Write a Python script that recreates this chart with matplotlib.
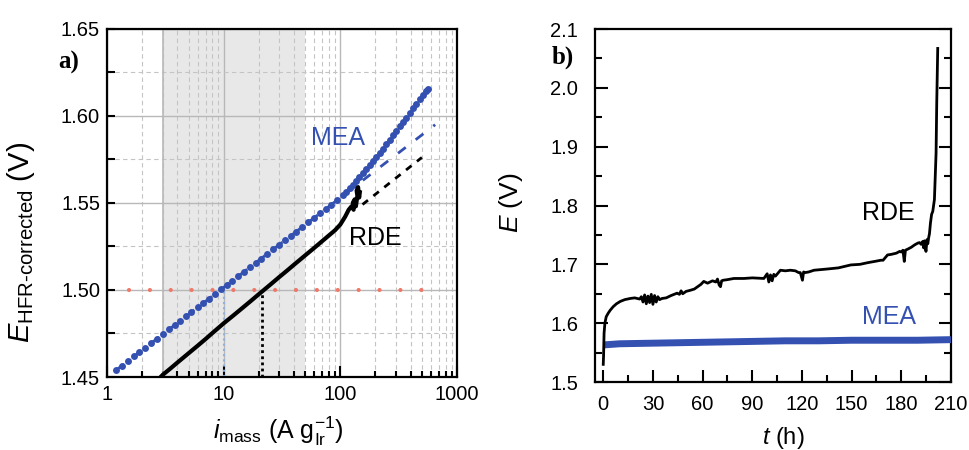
import matplotlib
matplotlib.use("Agg")
import matplotlib.pyplot as plt
from matplotlib.ticker import LogLocator, FuncFormatter, MultipleLocator, NullFormatter

plt.rcParams['font.family'] = ['Liberation Sans', 'DejaVu Sans']
plt.rcParams['mathtext.fontset'] = 'custom'
plt.rcParams['mathtext.rm'] = 'Liberation Sans'
plt.rcParams['mathtext.it'] = 'Liberation Sans:italic'
plt.rcParams['mathtext.bf'] = 'Liberation Sans:bold'

BLUE = '#3451b2'

# --- panel a: HFR-corrected potential vs mass activity ---
mea_i = [1.2, 1.35, 1.5, 1.7, 1.9, 2.1, 2.4, 2.7, 3.0, 3.4,
         3.8, 4.2, 4.8, 5.3, 6.0, 6.7, 7.5, 8.4, 9.5, 10.6,
         11.9, 13.4, 15, 16.8, 18.9, 21, 23.7, 26.6, 29.8, 33.4,
         37.5, 42, 47, 53, 59.5, 67, 75, 84, 94, 105,
         112, 120, 128, 137, 146, 156, 167, 178, 190, 203,
         217, 232, 248, 265, 283, 302, 323, 345, 368, 393,
         420, 449, 480, 512, 547, 570]
mea_e = [1.4540, 1.4566, 1.4590, 1.4618, 1.4643, 1.4665, 1.4695, 1.4721, 1.4745, 1.4773,
         1.4798, 1.4820, 1.4850, 1.4872, 1.4900, 1.4924, 1.4950, 1.4975, 1.5003, 1.5027,
         1.5053, 1.5079, 1.5105, 1.5130, 1.5156, 1.5180, 1.5207, 1.5233, 1.5258, 1.5284,
         1.5310, 1.5335, 1.5360, 1.5387, 1.5413, 1.5439, 1.5465, 1.5490, 1.5515, 1.5545,
         1.5564, 1.5585, 1.5604, 1.5627, 1.5649, 1.5670, 1.5694, 1.5716, 1.5739, 1.5762,
         1.5786, 1.5811, 1.5836, 1.5861, 1.5887, 1.5912, 1.5938, 1.5964, 1.5989, 1.6015,
         1.6042, 1.6069, 1.6095, 1.6119, 1.6142, 1.6155]

rde_i = [2.7, 3, 3.5, 4, 5, 6, 7, 8, 10, 12,
         14, 17, 20, 22, 25, 30, 35, 40, 50, 60,
         70, 80, 90, 100, 110, 118, 125, 130, 128, 133,
         136, 140, 138, 142, 145, 147]
rde_e = [1.4480, 1.4512, 1.4549, 1.4582, 1.4636, 1.4680, 1.4718, 1.4752, 1.4808, 1.4851,
         1.4888, 1.4935, 1.4975, 1.4998, 1.5029, 1.5074, 1.5111, 1.5144, 1.5198, 1.5242,
         1.5280, 1.5313, 1.5342, 1.5375, 1.5420, 1.5460, 1.5480, 1.5460, 1.5500, 1.5520,
         1.5480, 1.5540, 1.5570, 1.5590, 1.5530, 1.5560]

# Tafel fits (extrapolated)
mea_fit_i = [1.2, 650]
mea_fit_e = [1.4540, 1.5948]
rde_fit_i = [155, 500]
rde_fit_e = [1.5490, 1.5760]

e_ref = 1.50
ref_i_range = [1.55, 700]
mea_i_ref = 10
rde_i_ref = 21.5
shade_range = [3, 50]

# --- panel b: chronopotentiometry ---
rde_t = [0, 0.2, 0.5, 1, 1.8, 3, 4.2, 6, 8, 10.3,
         13, 16.3, 19, 22, 23, 24, 25, 26, 27, 28,
         29, 30, 31, 32, 33, 34, 35.5, 38, 41, 44.6,
         46, 47, 48, 50, 52.7, 55, 57, 59, 60.7, 63,
         66, 68, 69, 70, 70.8, 71.5, 72.5, 75, 78.9, 85,
         90, 97, 99, 100, 101, 102, 103, 104, 107, 110,
         113, 116, 118, 119, 120.3, 121, 122, 124, 127.3, 135,
         142, 149.5, 155, 160, 164, 167.7, 169, 171.7, 174, 177,
         179, 180, 181, 181.8, 182.5, 184, 186, 188, 189.9, 191,
         192, 193, 193.5, 194, 194.9, 195.5, 196, 196.5, 197, 197.6,
         198.3, 199, 200, 201, 201.4, 202]
rde_v = [1.530, 1.545, 1.583, 1.600, 1.611, 1.617, 1.622, 1.628, 1.633, 1.637,
         1.640, 1.642, 1.643, 1.641, 1.645, 1.636, 1.648, 1.633, 1.646, 1.635,
         1.649, 1.632, 1.647, 1.636, 1.645, 1.640, 1.642, 1.643, 1.647, 1.651,
         1.649, 1.655, 1.650, 1.654, 1.656, 1.658, 1.662, 1.666, 1.671, 1.668,
         1.672, 1.670, 1.675, 1.665, 1.662, 1.672, 1.673, 1.674, 1.676, 1.676,
         1.677, 1.676, 1.684, 1.670, 1.682, 1.672, 1.683, 1.680, 1.690, 1.689,
         1.690, 1.689, 1.686, 1.686, 1.673, 1.687, 1.686, 1.687, 1.690, 1.692,
         1.694, 1.699, 1.700, 1.703, 1.705, 1.707, 1.707, 1.716, 1.717, 1.719,
         1.722, 1.721, 1.724, 1.705, 1.724, 1.726, 1.729, 1.733, 1.736, 1.737,
         1.734, 1.739, 1.728, 1.740, 1.722, 1.742, 1.735, 1.745, 1.752, 1.770,
         1.785, 1.790, 1.810, 1.889, 1.974, 2.067]

mea_t = [0, 10, 30, 50, 70, 90, 110, 130, 150, 170, 190, 210]
mea_v = [1.563, 1.565, 1.566, 1.567, 1.568, 1.569, 1.570, 1.570, 1.571, 1.571, 1.571, 1.572]


fig = plt.figure(figsize=(9.69, 4.5), dpi=100)
ax1 = fig.add_axes([0.1104, 0.1622, 0.3612, 0.7744])
ax2 = fig.add_axes([0.614, 0.1511, 0.3674, 0.7844])

# panel a
ax1.set_xscale('log')
ax1.set_xlim(1, 1000)
ax1.set_ylim(1.45, 1.65)
ax1.set_axisbelow(True)
ax1.axvspan(*shade_range, facecolor='#e8e8e8', edgecolor='none', zorder=0.1)
ax1.axvline(shade_range[0], color='#b8b8b8', lw=1.2, zorder=0.6)
ax1.grid(which='major', color='#b8b8b8', lw=1.0, ls='-')
ax1.grid(which='minor', color='#c4c4c4', lw=0.8, ls=(0, (4, 3)))

ax1.plot(ref_i_range, [e_ref, e_ref], color='#f07868', lw=3.0,
         ls=(0, (0.01, 5)), dash_capstyle='round', zorder=2)
ax1.plot([mea_i_ref, mea_i_ref], [1.45, e_ref], color='#8fb0de', lw=1.5,
         ls=(0, (1, 1.5)), zorder=2)
ax1.plot([rde_i_ref, rde_i_ref], [1.45, e_ref], color='black', lw=2.0,
         ls=(0, (1, 1.2)), zorder=2)

ax1.plot(mea_fit_i, mea_fit_e, color=BLUE, lw=2.0, ls=(0, (3.5, 4.5)), zorder=3)
ax1.plot(rde_fit_i, rde_fit_e, color='black', lw=2.0, ls=(0, (2.5, 2.5)), zorder=3)
ax1.plot(mea_i, mea_e, 'o', color=BLUE, ms=5, mec='none', zorder=4)
ax1.plot(rde_i, rde_e, '-', color='black', lw=3.0, solid_joinstyle='round', zorder=4)

ax1.text(96, 1.587, 'MEA', color=BLUE, fontsize=18, ha='center', va='center')
ax1.text(199, 1.530, 'RDE', color='black', fontsize=18, ha='center', va='center')
ax1.text(-0.14, 0.903, 'a)', transform=ax1.transAxes, fontsize=18,
         fontweight='bold', family='Liberation Serif', ha='left', va='center')

ax1.xaxis.set_major_locator(LogLocator(base=10))
ax1.xaxis.set_minor_locator(LogLocator(base=10, subs=range(2, 10)))
ax1.xaxis.set_major_formatter(FuncFormatter(lambda v, p: f'{v:g}'))
ax1.xaxis.set_minor_formatter(NullFormatter())
ax1.yaxis.set_major_locator(MultipleLocator(0.05))
ax1.yaxis.set_minor_locator(MultipleLocator(0.025))
ax1.yaxis.set_major_formatter(FuncFormatter(lambda v, p: f'{v:.2f}'))
ax1.tick_params(which='both', direction='in', labelsize=14.5, width=1.5,
                top=False, right=False)
ax1.tick_params(axis='x', which='major', length=8, pad=6)
ax1.tick_params(axis='x', which='minor', length=4)
ax1.tick_params(axis='y', which='both', length=6, pad=5)
for s in ax1.spines.values():
    s.set_linewidth(1.6)

ax1.set_ylabel('$E_{\\mathrm{HFR\u2010corrected}}$ (V)', fontsize=21)
ax1.yaxis.set_label_coords(-0.2, 0.385)
ax1.set_xlabel('$i_{\\mathrm{mass}}$ (A g$_{\\mathrm{Ir}}^{-1}$)', fontsize=18)
ax1.xaxis.set_label_coords(0.489, -0.108)

# panel b
ax2.set_xlim(-5, 210)
ax2.set_ylim(1.5, 2.1)
ax2.plot(mea_t, mea_v, color=BLUE, lw=5, solid_capstyle='butt', zorder=3)
ax2.plot(rde_t, rde_v, color='black', lw=2.0, solid_joinstyle='round', zorder=4)

ax2.text(172, 1.787, 'RDE', color='black', fontsize=18, ha='center', va='center')
ax2.text(172.5, 1.611, 'MEA', color=BLUE, fontsize=18, ha='center', va='center')
ax2.text(-0.121, 0.921, 'b)', transform=ax2.transAxes, fontsize=18,
         fontweight='bold', family='Liberation Serif', ha='left', va='center')

ax2.xaxis.set_major_locator(MultipleLocator(30))
ax2.xaxis.set_minor_locator(MultipleLocator(15))
ax2.yaxis.set_major_locator(MultipleLocator(0.1))
ax2.yaxis.set_minor_locator(MultipleLocator(0.05))
ax2.yaxis.set_major_formatter(FuncFormatter(lambda v, p: f'{v:.1f}'))
ax2.tick_params(which='both', direction='in', labelsize=14.5, width=1.5,
                top=False, right=True)
ax2.tick_params(which='major', length=9)
ax2.tick_params(which='minor', length=5)
ax2.tick_params(axis='y', pad=12)
ax2.tick_params(axis='x', pad=9)
for s in ax2.spines.values():
    s.set_linewidth(1.6)

ax2.set_ylabel('$E$ (V)', fontsize=19)
ax2.yaxis.set_label_coords(-0.197, 0.507)
ax2.set_xlabel('$t$ (h)', fontsize=17)
ax2.xaxis.set_label_coords(0.528, -0.122)

fig.savefig('out.png', dpi=100)
